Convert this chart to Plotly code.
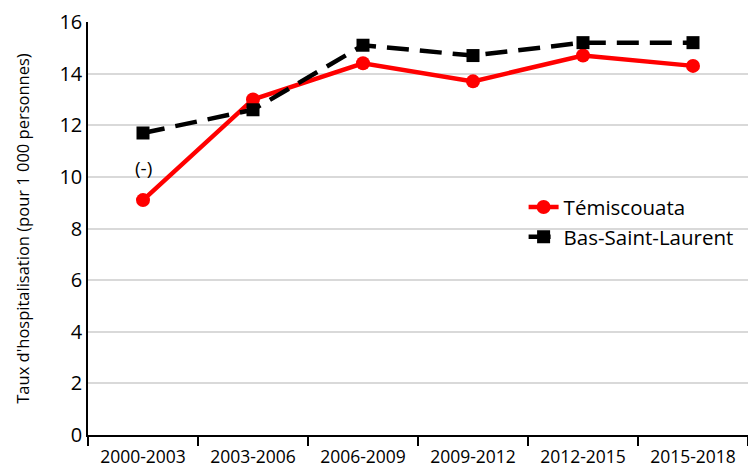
import plotly.graph_objects as go

periods = ['2000-2003', '2003-2006', '2006-2009', '2009-2012', '2012-2015', '2015-2018']
temiscouata = [9.1, 13.0, 14.4, 13.7, 14.7, 14.3]
bas_saint_laurent = [11.7, 12.6, 15.1, 14.7, 15.2, 15.2]

FONT = 'Open Sans, sans-serif'

fig = go.Figure()
fig.add_trace(go.Scatter(
    x=periods, y=temiscouata, name='Témiscouata', mode='lines+markers',
    line=dict(color='#FF0000', width=4.5),
    marker=dict(symbol='circle', size=14, color='#FF0000'),
))
fig.add_trace(go.Scatter(
    x=periods, y=bas_saint_laurent, name='Bas-Saint-Laurent', mode='lines+markers',
    line=dict(color='#000000', width=4.5, dash='22px,11px'),
    marker=dict(symbol='square', size=13, color='#000000'),
))

# note above the first Témiscouata point
fig.add_annotation(
    x=periods[0], y=temiscouata[0], yshift=32, text='(-)', showarrow=False,
    font=dict(size=19, color='#000000', family=FONT),
)

# page body has an 8px margin, so the figure is sized 8px smaller
fig.update_layout(
    width=748, height=461,
    paper_bgcolor='white', plot_bgcolor='white',
    margin=dict(l=80, r=8, t=14, b=34),
    font=dict(family=FONT, color='#000000'),
    showlegend=True,
    legend=dict(
        x=0.66, y=0.60, xanchor='left', yanchor='top',
        bgcolor='rgba(255,255,255,0)', font=dict(size=20.5),
        tracegroupgap=0,
    ),
    xaxis=dict(
        showline=True, linecolor='#000000', linewidth=1.5,
        tickson='boundaries', ticks='outside', ticklen=9, tickwidth=1.5,
        tickcolor='#000000', showgrid=False, automargin=False,
        tickfont=dict(size=17.5), ticklabelstandoff=5, range=[-0.5, 5.5],
    ),
    yaxis=dict(
        range=[0, 16], dtick=2, showline=True, linecolor='#000000', linewidth=1.5,
        showgrid=True, gridcolor='#D9D9D9', gridwidth=1.5, zeroline=False,
        ticks='', tickfont=dict(size=20), automargin=False,
        title=dict(text="Taux d'hospitalisation (pour 1 000 personnes)",
                   font=dict(size=16.5), standoff=26),
    ),
)

fig.write_html('out.html')
